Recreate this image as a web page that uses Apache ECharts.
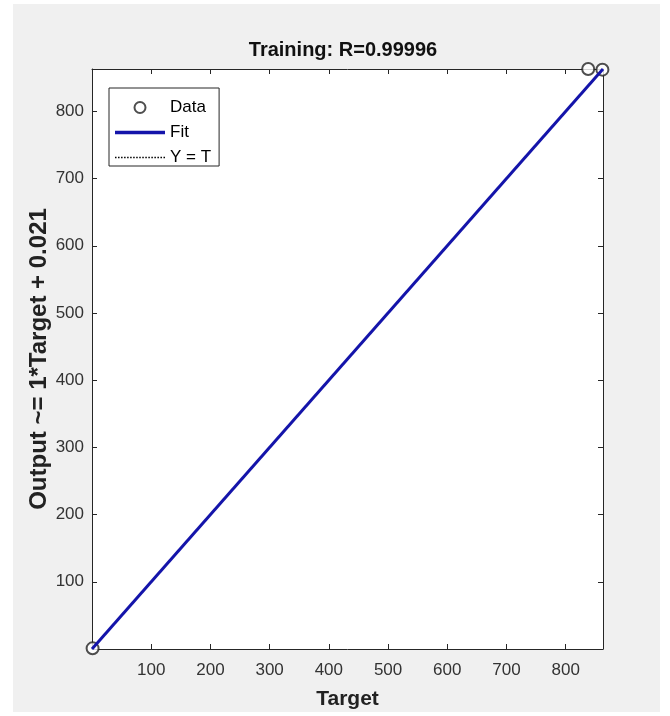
<!DOCTYPE html>
<html>
<head>
<meta charset="utf-8">
<script src="https://cdn.jsdelivr.net/npm/echarts@6/dist/echarts.min.js"></script>
<style>
  html, body { margin: 0; padding: 0; background: #ffffff; }
  #bg { position: absolute; left: 13px; top: 4px; width: 647px; height: 708px; background: #f0f0f0; }
  #chart { position: absolute; left: 0; top: 0; width: 670px; height: 716px; }
</style>
</head>
<body>
<div id="bg"></div>
<div id="chart"></div>
<script>
// ---- data ----
const titleText = 'Training: R=0.99996';
const xLabel = 'Target';
const yLabel = 'Output ~= 1*Target + 0.021';
const targets = [1, 838, 862];
const outputs = [1, 863, 862];
const fitX = [0, 863];
const fitY = [0.021, 863.021];
const identityX = [0, 863];
const identityY = [0, 863];
const axisMin = 0;
const axisMax = 863;
const tickStep = 100;

const dataPoints = targets.map((t, i) => [t, outputs[i]]);
const fitPoints = fitX.map((x, i) => [x, fitY[i]]);
const idPoints = identityX.map((x, i) => [x, identityY[i]]);

const FONT = 'Liberation Sans, Arial, sans-serif';
const AXC = '#262626';
const BLUE = '#1414aa';
const labelFmt = v => (v > 0 && v % tickStep === 0) ? String(v) : '';

// legend icons (styling only)
const solidIcon = 'path://M0,0L50,0L50,3.4L0,3.4Z';
let dots = '';
for (let k = 0; k < 50; k += 3) dots += 'M' + k + ',0h1.5v1.5h-1.5z';
const dottedIcon = 'path://' + dots;

function axisBase(extra) {
  return Object.assign({
    type: 'value', min: axisMin, max: axisMax, interval: tickStep,
    splitLine: { show: false },
    axisLine: { show: true, onZero: false, lineStyle: { color: AXC, width: 1 } },
    axisTick: { show: true, inside: true, length: 5, lineStyle: { color: AXC } },
  }, extra);
}

const chart = echarts.init(document.getElementById('chart'), null, { renderer: 'canvas' });
chart.setOption({
  backgroundColor: 'transparent',
  animation: false,
  title: {
    text: titleText, left: 338, top: 35, textAlign: 'center',
    textStyle: { fontFamily: FONT, fontSize: 20, fontWeight: 'bold', color: '#111' }
  },
  grid: { left: 92, right: 67, top: 69, bottom: 67, show: true, backgroundColor: '#ffffff', borderWidth: 0 },
  legend: {
    orient: 'vertical', left: 109, top: 88,
    backgroundColor: '#ffffff', borderColor: AXC, borderWidth: 1,
    padding: [11, 8, 0, 6], itemGap: 8, itemWidth: 50, itemHeight: 11,
    textStyle: { fontFamily: FONT, fontSize: 17, color: '#000' },
    data: [
      { name: 'Data', icon: 'emptyCircle' },
      { name: 'Fit', icon: solidIcon },
      { name: 'Y = T', icon: dottedIcon }
    ]
  },
  xAxis: [
    axisBase({
      position: 'bottom',
      name: xLabel, nameLocation: 'middle', nameGap: 40, nameMoveOverlap: false,
      nameTextStyle: { fontFamily: FONT, fontSize: 21, fontWeight: 'bold', color: '#222' },
      axisLabel: { formatter: labelFmt, fontFamily: FONT, fontSize: 17, color: '#333', margin: 13 }
    }),
    axisBase({ position: 'top', axisLabel: { show: false } })
  ],
  yAxis: [
    axisBase({
      position: 'left',
      name: yLabel, nameLocation: 'middle', nameGap: 41, nameMoveOverlap: false,
      nameTextStyle: { fontFamily: FONT, fontSize: 24, fontWeight: 'bold', color: '#222' },
      axisLabel: { formatter: labelFmt, fontFamily: FONT, fontSize: 17, color: '#333', margin: 8 }
    }),
    axisBase({ position: 'right', axisLabel: { show: false } })
  ],
  series: [
    {
      name: 'Y = T', type: 'line', data: idPoints, symbol: 'none', z: 1,
      lineStyle: { color: '#000', width: 1, type: 'dotted' }, itemStyle: { color: '#000' }
    },
    {
      name: 'Data', type: 'scatter', data: dataPoints, symbol: 'emptyCircle', symbolSize: 12, z: 2, clip: false,
      itemStyle: { color: '#222', borderColor: '#222', borderWidth: 1.6 }
    },
    {
      name: 'Fit', type: 'line', data: fitPoints, symbol: 'none', z: 3, clip: false,
      lineStyle: { color: BLUE, width: 3 }, itemStyle: { color: BLUE }
    }
  ]
});
</script>
</body>
</html>
